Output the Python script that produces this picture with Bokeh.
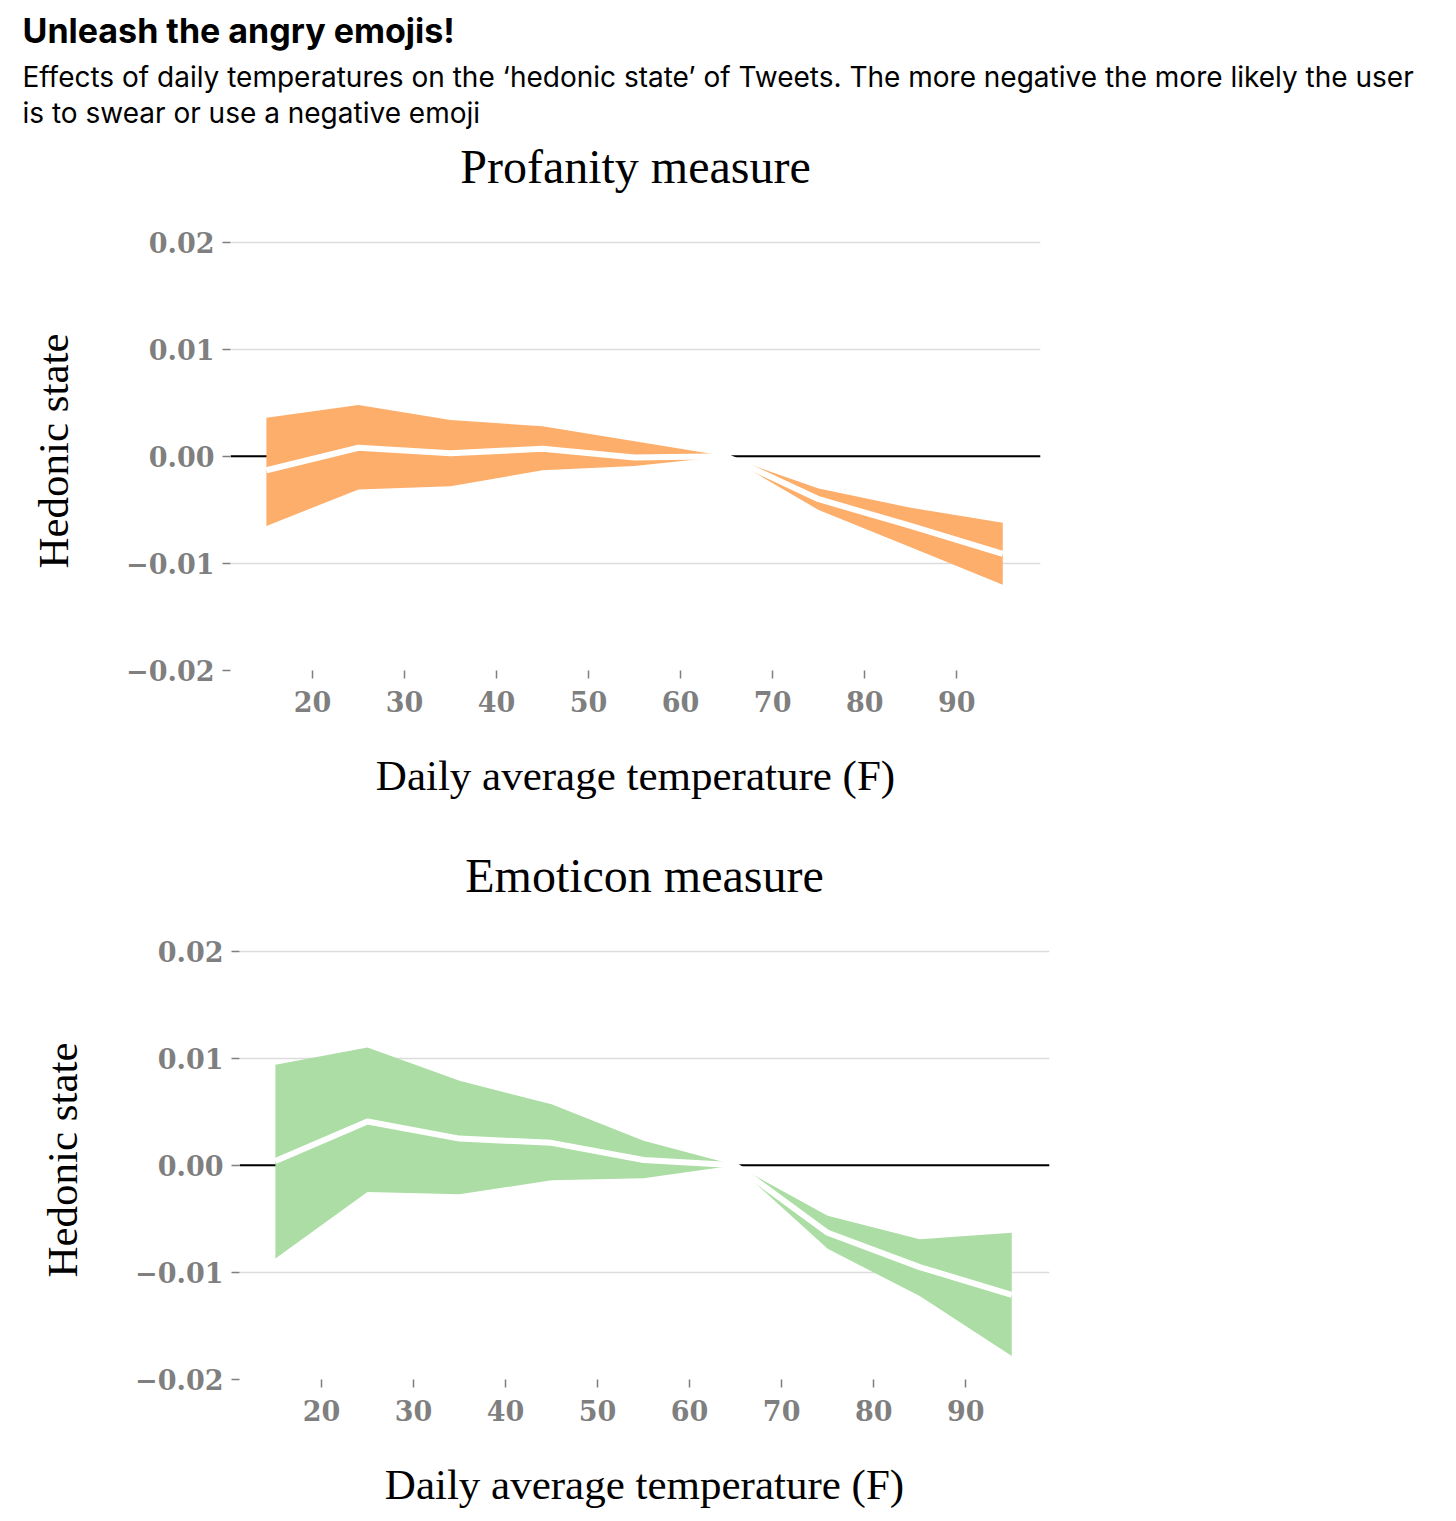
from bokeh.plotting import figure
from bokeh.models import Title, Span, FixedTicker, CustomJSTickFormatter, Range1d, Spacer
from bokeh.layouts import column, row
from bokeh.embed import file_html
from bokeh.resources import INLINE

# temperature bins (F); 65 is the reference bin
temps = [15, 25, 35, 45, 55, 65, 75, 85, 95]

# Profanity measure
prof_est = [-0.0013, 0.0008, 0.0003, 0.0007, -0.0001, 0.0, -0.0040, -0.0065, -0.0091]
prof_low = [-0.0065, -0.0031, -0.0028, -0.0013, -0.0009, 0.0, -0.0050, -0.0085, -0.0120]
prof_high = [0.0036, 0.0048, 0.0034, 0.0028, 0.0014, 0.0, -0.0030, -0.0048, -0.0062]

# Emoticon measure
emo_est = [0.0004, 0.0041, 0.0025, 0.0021, 0.0005, 0.0, -0.0063, -0.0095, -0.0121]
emo_low = [-0.0087, -0.0025, -0.0027, -0.0014, -0.0012, 0.0, -0.0078, -0.0122, -0.0178]
emo_high = [0.0094, 0.0110, 0.0079, 0.0057, 0.0023, 0.0, -0.0047, -0.0069, -0.0063]

x_ticks = [20, 30, 40, 50, 60, 70, 80, 90]
y_ticks = [-0.02, -0.01, 0.0, 0.01, 0.02]

SERIF = "Liberation Serif"
TICK_FONT = "DejaVu Serif"
SANS = "Inter"
GREY = "#7f7f7f"
LEFT = 230


def title_strip(right):
    # empty figure that only carries titles in its "above" panel
    f = figure(frame_width=810, frame_height=2, x_axis_type=None, y_axis_type=None,
               output_backend="svg", toolbar_location=None,
               min_border_left=LEFT, min_border_right=right,
               min_border_top=0, min_border_bottom=0)
    f.outline_line_color = None
    f.grid.visible = False
    return f


def chart_title(text, standoff):
    return Title(text=text, align="center", text_font=SERIF,
                 text_font_size="48px", text_font_style="normal",
                 text_color="black", standoff=standoff)


# header: title, subtitle and first chart title
header = title_strip(400)
header.add_layout(chart_title("Profanity measure", 16), "above")
header.add_layout(Title(text="is to swear or use a negative emoji", align="left",
                        offset=-208, text_font=SANS, text_font_size="28px",
                        text_font_style="normal", text_color="black",
                        standoff=0), "above")
header.add_layout(Title(text="Effects of daily temperatures on the \u2018hedonic state\u2019 of Tweets. "
                             "The more negative the more likely the user",
                        align="left", offset=-208, text_font=SANS,
                        text_font_size="28px", text_font_style="normal",
                        text_color="black", standoff=0), "above")
header.add_layout(Title(text="Unleash the angry emojis!", align="left", offset=-208,
                        text_font=SANS, text_font_size="34px",
                        text_font_style="bold", text_color="black",
                        standoff=14), "above")

mid = title_strip(391)
mid.add_layout(chart_title("Emoticon measure", 32), "above")


def make_panel(est, low, high, color, top, bottom):
    p = figure(frame_width=810, frame_height=439,
               x_range=Range1d(11.1, 99.1), y_range=Range1d(-0.02, 0.021),
               output_backend="svg", toolbar_location=None,
               min_border_left=LEFT, min_border_top=top,
               min_border_bottom=bottom, min_border_right=20,
               x_axis_label="Daily average temperature (F)",
               y_axis_label="Hedonic state")
    p.outline_line_color = None
    p.xgrid.grid_line_color = None
    p.ygrid.grid_line_color = "#dcdcdc"
    p.ygrid.grid_line_width = 1.5
    p.ygrid.ticker = FixedTicker(ticks=y_ticks)

    zero = Span(location=0, dimension="width", line_color="black",
                line_width=2, level="underlay")
    p.add_layout(zero)

    p.varea(x=temps, y1=low, y2=high, fill_color=color)
    p.line(temps, est, line_color="white", line_width=6)

    p.xaxis.ticker = FixedTicker(ticks=x_ticks)
    p.yaxis.ticker = FixedTicker(ticks=y_ticks)
    p.yaxis.formatter = CustomJSTickFormatter(
        code="return (tick < 0 ? '\u2212' : '') + Math.abs(tick).toFixed(2);")

    for ax in (p.xaxis, p.yaxis):
        ax.axis_line_color = None
        ax.major_tick_line_color = GREY
        ax.major_tick_line_width = 1.5
        ax.major_tick_out = 8
        ax.major_tick_in = 0
        ax.minor_tick_line_color = None
        ax.major_label_text_font = TICK_FONT
        ax.major_label_text_font_style = "bold"
        ax.major_label_text_font_size = "27px"
        ax.major_label_text_color = GREY
        ax.axis_label_text_font = SERIF
        ax.axis_label_text_font_style = "normal"
        ax.axis_label_text_font_size = "43px"
        ax.axis_label_text_color = "black"
    p.xaxis.major_label_standoff = 12
    p.yaxis.major_label_standoff = 8
    p.xaxis.axis_label_standoff = 37
    p.yaxis.axis_label_standoff = 46
    return p


top = make_panel(prof_est, prof_low, prof_high, "#fdae6b", 29, 160)
bottom = make_panel(emo_est, emo_low, emo_high, "#abdda4", 21, 130)

layout = column(row(header), row(top), row(Spacer(width=9), mid),
                row(Spacer(width=9), bottom))
open("out.html", "w").write(file_html(layout, INLINE))
